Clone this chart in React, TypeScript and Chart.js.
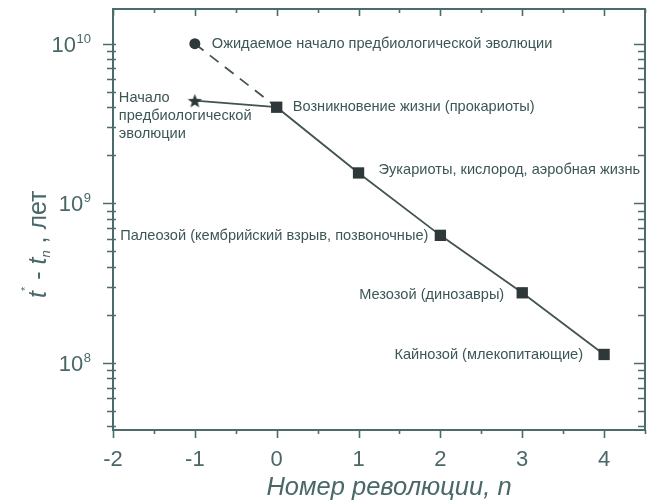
import React, { useEffect, useRef } from "react";
import { Chart, registerables } from "chart.js";

Chart.register(...registerables);

// ---- Data ----
const revolutions = [-1, 0, 1, 2, 3, 4];
const timesYears = [4.4e9, 4.0e9, 1.55e9, 6.3e8, 2.75e8, 1.13e8];
const expectedRevolutions = [-1, 0];
const expectedYears = [1.0e10, 4.0e9];

const eventLabels = [
  "Начало\nпредбиологической\nэволюции",
  "Возникновение жизни (прокариоты)",
  "Эукариоты, кислород, аэробная жизнь",
  "Палеозой (кембрийский взрыв, позвоночные)",
  "Мезозой (динозавры)",
  "Кайнозой (млекопитающие)",
];
const expectedLabel = "Ожидаемое начало предбиологической эволюции";

const xTickLabels = ["-2", "-1", "0", "1", "2", "3", "4"];
const yMajorExponents = [8, 9, 10];

const xTitle = "Номер революции, n";

// ---- Styles ----
const FRAME = "#4c6c6c";
const TEXT = "#4a6868";
const LABEL_TEXT = "#3c5656";
const LINE = "#435252";
const MARK = "#2e3838";
const FONT = "'Liberation Sans', Arial, sans-serif";

function makeStar(size: number, color: string) {
  const c = document.createElement("canvas");
  c.width = size;
  c.height = size;
  const ctx = c.getContext("2d")!;
  const cx = size / 2, cy = size / 2 + 0.8;
  const R = size / 2, r = R * 0.42;
  ctx.beginPath();
  for (let i = 0; i < 10; i++) {
    const a = -Math.PI / 2 + (i * Math.PI) / 5;
    const rad = i % 2 === 0 ? R : r;
    const x = cx + rad * Math.cos(a), y = cy + rad * Math.sin(a);
    if (i === 0) ctx.moveTo(x, y);
    else ctx.lineTo(x, y);
  }
  ctx.closePath();
  ctx.fillStyle = color;
  ctx.fill();
  return c;
}

// label placement relative to each point: [dx, dy, align]
const labelPlacement: [number, number, CanvasTextAlign][] = [
  [-76, -3, "left"],
  [16, 0, "left"],
  [20, -3, "left"],
  [-12, 1, "right"],
  [-18, 2, "right"],
  [-21, 1, "right"],
];

const framePlugin = {
  id: "frameTicks",
  afterDraw(chart: any) {
    const ctx: CanvasRenderingContext2D = chart.ctx;
    const { left, right, top, bottom } = chart.chartArea;
    const xs = chart.scales.x;
    const ys = chart.scales.y;
    ctx.save();
    ctx.strokeStyle = FRAME;
    ctx.lineWidth = 2;
    ctx.strokeRect(left, top, right - left, bottom - top);
    ctx.lineWidth = 1.6;
    // x ticks
    xs.ticks.forEach((t: any) => {
      const px = Math.round(xs.getPixelForValue(t.value)) + 0.5;
      if (px < left - 1 || px > right + 1) return;
      const major = Math.abs(t.value - Math.round(t.value)) < 1e-6;
      ctx.beginPath();
      ctx.moveTo(px, bottom);
      ctx.lineTo(px, bottom + (major ? 8 : 4));
      ctx.moveTo(px, top);
      ctx.lineTo(px, top + (major ? 7 : 4));
      ctx.stroke();
    });
    // y ticks
    ys.ticks.forEach((t: any) => {
      const py = Math.round(ys.getPixelForValue(t.value)) + 0.5;
      if (py < top - 1 || py > bottom + 1) return;
      const lg = Math.log10(t.value);
      const major = Math.abs(lg - Math.round(lg)) < 1e-6;
      ctx.beginPath();
      ctx.moveTo(left - (major ? 10 : 6), py);
      ctx.lineTo(left + 3, py);
      ctx.moveTo(right, py);
      ctx.lineTo(right - (major ? 11 : 7), py);
      ctx.stroke();
    });
    // y labels 10^n
    ctx.fillStyle = TEXT;
    ctx.textBaseline = "alphabetic";
    yMajorExponents.forEach((e) => {
      const py = ys.getPixelForValue(Math.pow(10, e));
      if (py < top - 30 || py > bottom + 1) return;
      const exp = String(e);
      ctx.font = `13px ${FONT}`;
      const ew = ctx.measureText(exp).width;
      const rightEdge = 91;
      ctx.textAlign = "right";
      ctx.fillText(exp, rightEdge, py - 1);
      ctx.font = `22px ${FONT}`;
      ctx.fillText("10", rightEdge - ew - 0.5, py + 8);
    });
    // x title
    ctx.font = `italic 25.5px ${FONT}`;
    ctx.textAlign = "center";
    ctx.fillText(xTitle, (left + right) / 2 + 10, 495);
    // y title, rotated
    ctx.translate(38, 298);
    ctx.rotate(-Math.PI / 2);
    ctx.textAlign = "left";
    ctx.textBaseline = "alphabetic";
    let x = 0;
    const draw = (s: string, font: string, dy = 0) => {
      ctx.font = font;
      ctx.fillText(s, x, dy);
      x += ctx.measureText(s).width;
    };
    draw("t", `italic 25px ${FONT}`, 8);
    draw("*", `11px ${FONT}`, -9);
    draw(" - ", `25px ${FONT}`, 8);
    draw("t", `italic 25px ${FONT}`, 8);
    draw("n", `italic 13px ${FONT}`, 12);
    draw(" , лет", `25px ${FONT}`, 8);
    ctx.restore();
  },
};

const annotationPlugin = {
  id: "eventLabels",
  afterDatasetsDraw(chart: any) {
    const ctx: CanvasRenderingContext2D = chart.ctx;
    const xs = chart.scales.x;
    const ys = chart.scales.y;
    ctx.save();
    ctx.fillStyle = LABEL_TEXT;
    ctx.font = `14.6px ${FONT}`;
    ctx.textBaseline = "middle";
    revolutions.forEach((r, i) => {
      const px = xs.getPixelForValue(r);
      const py = ys.getPixelForValue(timesYears[i]);
      const [dx, dy, align] = labelPlacement[i];
      ctx.textAlign = align;
      const lines = eventLabels[i].split("\n");
      lines.forEach((ln, k) => {
        ctx.fillText(ln, px + dx, py + dy + k * 18);
      });
    });
    const ex = xs.getPixelForValue(expectedRevolutions[0]);
    const ey = ys.getPixelForValue(expectedYears[0]);
    ctx.textAlign = "left";
    ctx.fillText(expectedLabel, ex + 17, ey);
    ctx.restore();
  },
};

export default function App() {
  const ref = useRef<HTMLCanvasElement>(null);
  useEffect(() => {
    document.body.style.margin = "0";
    const star = makeStar(15, MARK);
    const chart = new Chart(ref.current!, {
      type: "line",
      data: {
        datasets: [
          {
            data: revolutions.map((r, i) => ({ x: r, y: timesYears[i] })),
            borderColor: LINE,
            borderWidth: 1.8,
            pointStyle: revolutions.map((_, i) => (i === 0 ? (star as any) : "rect")),
            pointRadius: revolutions.map((_, i) => (i === 0 ? 7 : 8)),
            pointBackgroundColor: MARK,
            pointBorderColor: MARK,
            pointBorderWidth: 0,
          },
          {
            data: expectedRevolutions.map((r, i) => ({ x: r, y: expectedYears[i] })),
            borderColor: LINE,
            borderWidth: 1.8,
            borderDash: [11, 8],
            pointStyle: "circle",
            pointRadius: [5.5, 0],
            pointBackgroundColor: MARK,
            pointBorderColor: MARK,
            pointBorderWidth: 0,
          },
        ],
      },
      options: {
        responsive: false,
        animation: false,
        layout: { padding: { top: 9, right: 2, left: 0, bottom: 0 } },
        plugins: { legend: { display: false }, tooltip: { enabled: false } },
        scales: {
          x: {
            type: "linear",
            min: -2,
            max: 4.5,
            border: { display: false },
            grid: { display: false, drawTicks: true, tickLength: 8 },
            ticks: {
              stepSize: 0.5,
              includeBounds: false,
              autoSkip: false,
              maxRotation: 0,
              padding: 9,
              color: TEXT,
              font: { family: FONT, size: 22 },
              callback: (v: any) => {
                const n = Number(v);
                if (Math.abs(n - Math.round(n)) > 1e-6) return "";
                const s = String(Math.round(n));
                return xTickLabels.includes(s) ? s : "";
              },
            },
            title: { display: false },
            afterFit: (s: any) => {
              s.height = 71;
            },
          },
          y: {
            type: "logarithmic",
            min: 3.8e7,
            max: 1.65e10,
            border: { display: false },
            grid: { display: false },
            ticks: { display: false },
            afterBuildTicks: (s: any) => {
              const t: any[] = [];
              for (let e = 7; e <= 10; e++) {
                for (let m = 1; m <= 9; m++) {
                  const v = m * Math.pow(10, e);
                  if (v >= s.min && v <= s.max) t.push({ value: v });
                }
              }
              s.ticks = t;
            },
            afterFit: (s: any) => {
              s.width = 113;
            },
          },
        },
      },
      plugins: [framePlugin, annotationPlugin],
    });
    return () => chart.destroy();
  }, []);
  return (
    <div style={{ width: 654, height: 501, background: "#fff" }}>
      <canvas ref={ref} width={654} height={501} />
    </div>
  );
}
